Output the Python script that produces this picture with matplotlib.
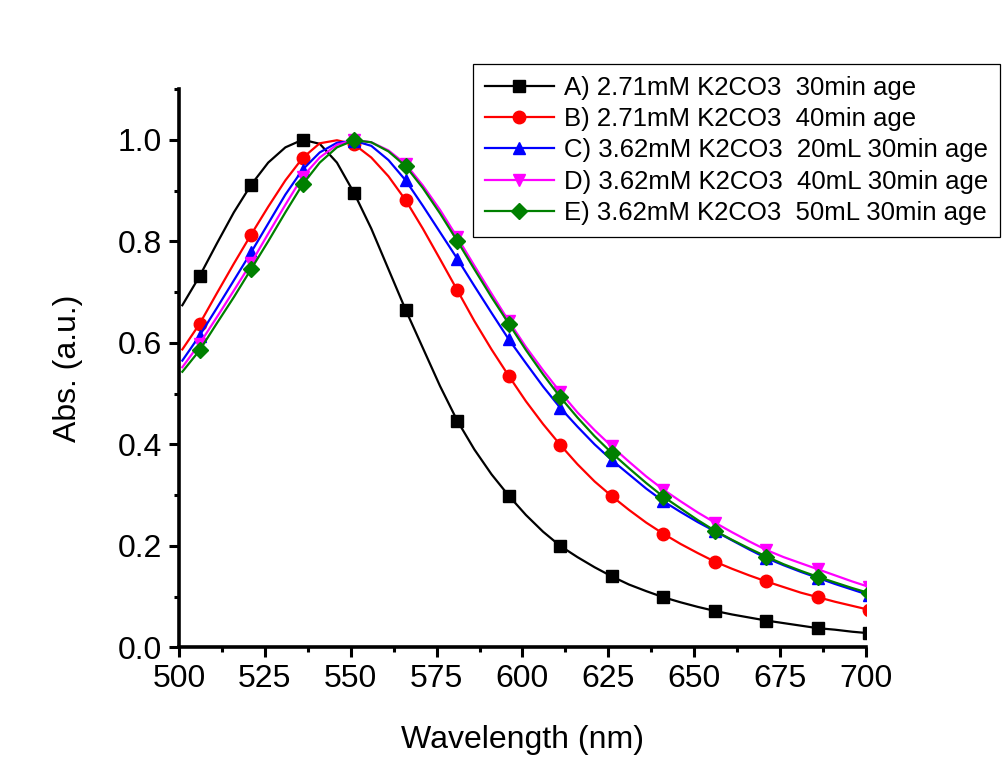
import matplotlib
matplotlib.use("Agg")
import matplotlib.pyplot as plt
from matplotlib.ticker import MultipleLocator

plt.rcParams["font.family"] = ["Liberation Sans", "DejaVu Sans"]

# wavelength grid (nm); markers sit on every third point starting at 506
wavelength = [501, 506, 511, 516, 521, 526, 531, 536, 541, 546,
              551, 556, 561, 566, 571, 576, 581, 586, 591, 596,
              601, 606, 611, 616, 621, 626, 631, 636, 641, 646,
              651, 656, 661, 666, 671, 676, 681, 686, 691, 696, 701]

abs_a = [0.674, 0.731, 0.795, 0.857, 0.911, 0.955, 0.985, 1.000, 0.992, 0.955,
         0.895, 0.825, 0.745, 0.665, 0.590, 0.515, 0.447, 0.390, 0.341, 0.299,
         0.261, 0.228, 0.200, 0.178, 0.158, 0.140, 0.124, 0.111, 0.099, 0.089,
         0.080, 0.072, 0.065, 0.059, 0.053, 0.048, 0.043, 0.038, 0.035, 0.031, 0.028]

abs_b = [0.587, 0.637, 0.697, 0.756, 0.813, 0.868, 0.920, 0.964, 0.993, 0.999,
         0.991, 0.965, 0.928, 0.881, 0.825, 0.765, 0.704, 0.643, 0.587, 0.535,
         0.485, 0.440, 0.399, 0.361, 0.327, 0.298, 0.271, 0.246, 0.224, 0.204,
         0.186, 0.169, 0.155, 0.142, 0.130, 0.119, 0.108, 0.099, 0.090, 0.082, 0.074]

abs_c = [0.565, 0.614, 0.668, 0.723, 0.778, 0.835, 0.892, 0.941, 0.975, 0.994,
         0.998, 0.988, 0.960, 0.920, 0.870, 0.818, 0.766, 0.712, 0.659, 0.607,
         0.560, 0.514, 0.472, 0.435, 0.400, 0.369, 0.341, 0.313, 0.288, 0.267,
         0.247, 0.229, 0.211, 0.193, 0.176, 0.162, 0.149, 0.137, 0.125, 0.114, 0.103]

abs_d = [0.552, 0.598, 0.650, 0.703, 0.757, 0.815, 0.872, 0.927, 0.965, 0.990,
         1.000, 0.995, 0.979, 0.952, 0.910, 0.862, 0.808, 0.752, 0.697, 0.643,
         0.592, 0.546, 0.503, 0.463, 0.428, 0.396, 0.366, 0.337, 0.311, 0.288,
         0.266, 0.246, 0.227, 0.209, 0.192, 0.178, 0.166, 0.154, 0.142, 0.130, 0.119]

abs_e = [0.543, 0.585, 0.638, 0.690, 0.745, 0.800, 0.857, 0.912, 0.955, 0.985,
         0.999, 0.995, 0.977, 0.948, 0.905, 0.855, 0.801, 0.745, 0.690, 0.638,
         0.586, 0.538, 0.493, 0.453, 0.416, 0.383, 0.353, 0.324, 0.297, 0.274,
         0.251, 0.230, 0.212, 0.195, 0.179, 0.164, 0.151, 0.139, 0.128, 0.117, 0.107]

labels = [
    "A) 2.71mM K2CO3  30min age",
    "B) 2.71mM K2CO3  40min age",
    "C) 3.62mM K2CO3  20mL 30min age",
    "D) 3.62mM K2CO3  40mL 30min age",
    "E) 3.62mM K2CO3  50mL 30min age",
]
colors = ["#000000", "#ff0000", "#0000ff", "#ff00ff", "#008000"]
markers = ["s", "o", "^", "v", "D"]
msizes = [8, 9, 9, 9, 8]

fig = plt.figure(figsize=(10.05, 7.77), dpi=100)
ax = fig.add_axes([0.178, 0.1667, 0.6837, 0.7188])

for ys, lab, col, mk, ms in zip([abs_a, abs_b, abs_c, abs_d, abs_e], labels, colors, markers, msizes):
    ax.plot(wavelength, ys, color=col, lw=1.6, marker=mk, ms=ms,
            markevery=(1, 3), label=lab)

ax.set_xlim(500, 700)
ax.set_ylim(0, 1.1)
ax.xaxis.set_major_locator(MultipleLocator(25))
ax.xaxis.set_minor_locator(MultipleLocator(12.5))
ax.yaxis.set_major_locator(MultipleLocator(0.2))
ax.yaxis.set_minor_locator(MultipleLocator(0.1))
ax.yaxis.set_major_formatter(plt.FormatStrFormatter("%.1f"))

for side in ["top", "right"]:
    ax.spines[side].set_visible(False)
for side in ["left", "bottom"]:
    ax.spines[side].set_linewidth(2.6)

ax.tick_params(which="major", direction="out", length=7, width=2.2, labelsize=23, pad=5)
ax.tick_params(which="minor", direction="out", length=3.5, width=2.2)

ax.set_xlabel("Wavelength (nm)", fontsize=23, labelpad=22)
ax.set_ylabel("Abs. (a.u.)", fontsize=23, labelpad=25)

leg = fig.legend(loc="upper right", bbox_to_anchor=(1000 / 1005, 1 - 64 / 777),
                 fontsize=18.5, frameon=True, fancybox=False, framealpha=1,
                 edgecolor="black", handlelength=2.7, handletextpad=0.4,
                 labelspacing=0.29, borderpad=0.45, borderaxespad=0)
leg.get_frame().set_linewidth(0.9)

fig.savefig("out.png", dpi=100)
